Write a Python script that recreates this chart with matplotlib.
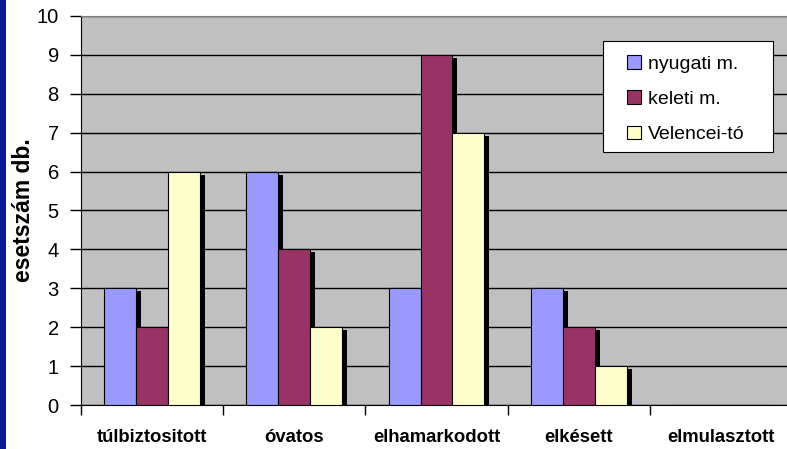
import numpy as np
import matplotlib
matplotlib.use("Agg")
from matplotlib import pyplot as plt
from matplotlib import transforms
from matplotlib.patches import Rectangle

plt.rcParams['font.family'] = ['Liberation Sans', 'DejaVu Sans']

categories = ["túlbiztositott", "óvatos", "elhamarkodott", "elkésett", "elmulasztott"]
series_names = ["nyugati m.", "keleti m.", "Velencei-tó"]
nyugati = [3, 6, 3, 3, 0]
keleti = [2, 4, 9, 2, 0]
velencei = [6, 2, 7, 1, 0]
colors = ["#9999FF", "#993366", "#FFFFCC"]

W, H = 787, 449
fig = plt.figure(figsize=(W / 100, H / 100), dpi=100)
fig.patch.set_facecolor("white")
# dark blue strip along the left edge
fig.add_artist(Rectangle((0, 0), 6 / W, 1, transform=fig.transFigure,
                         facecolor="#0A1A96", edgecolor="none"))

ax = fig.add_axes([81 / W, 43.7 / H, 711 / W, 389.6 / H])
ax.set_facecolor("#C0C0C0")

x = np.arange(len(categories))
w = 0.225
shadow = transforms.offset_copy(ax.transData, fig=fig, x=5, y=-3, units="dots")

for i, (vals, name, col) in enumerate(zip([nyugati, keleti, velencei], series_names, colors)):
    pos = x + (i - 1) * w
    ax.bar(pos, vals, w, color="black", linewidth=0, transform=shadow, zorder=2)
    ax.bar(pos, vals, w, color=col, edgecolor="black", linewidth=0.8,
           label=name, zorder=3)

ax.set_xlim(-0.5, len(categories) - 0.5)
ax.set_ylim(0, 10)
ax.set_yticks(range(0, 11))
ax.tick_params(axis="y", labelsize=14.5, length=8, width=1, pad=8, direction="out")
ax.yaxis.grid(True, color="black", linewidth=1)
ax.set_axisbelow(True)

# category boundaries get the tick marks, centers get the labels
ax.set_xticks(np.arange(len(categories) + 1) - 0.5)
ax.set_xticklabels([])
ax.set_xticks(x, minor=True)
ax.set_xticklabels(categories, minor=True, fontweight="bold", fontsize=13.3)
ax.tick_params(axis="x", which="major", length=7, width=1, direction="out")
ax.tick_params(axis="x", which="minor", length=0, pad=17)

ax.set_ylabel("esetszám db.", fontsize=16.5, fontweight="bold", labelpad=1)

ax.spines["right"].set_visible(False)
ax.spines["top"].set_color("#808080")
ax.spines["left"].set_color("black")
ax.spines["bottom"].set_color("black")

# legend box drawn separately so the padding can be set in pixels
ax.add_patch(Rectangle((603 / W, 1 - 152 / H), 170 / W, 111 / H, transform=fig.transFigure,
                       facecolor="white", edgecolor="black", linewidth=0.8,
                       clip_on=False, zorder=4))
leg = ax.legend(loc="upper left", bbox_to_anchor=(627 / W, 1 - 55 / H),
                bbox_transform=fig.transFigure, frameon=False,
                fontsize=14, handlelength=0.7, handleheight=0.7,
                labelspacing=0.91, borderpad=0, handletextpad=0.36, borderaxespad=0)
leg.set_zorder(5)
for h in leg.legend_handles:
    h.set_linewidth(0.8)

fig.savefig("out.png", dpi=100)
